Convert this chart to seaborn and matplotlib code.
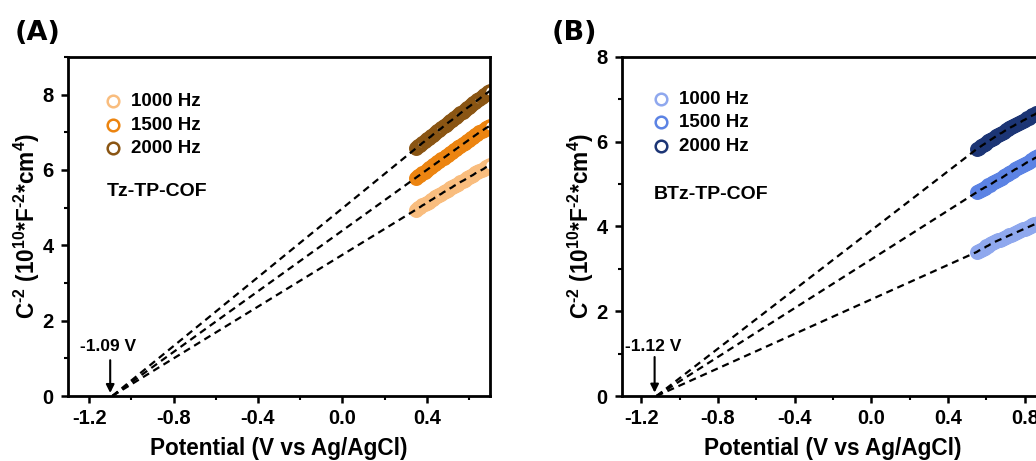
import numpy as np
import pandas as pd
import matplotlib
matplotlib.use("Agg")
import matplotlib.pyplot as plt
from matplotlib.ticker import MultipleLocator, FormatStrFormatter
import seaborn as sns

# ---- Mott-Schottky data ----------------------------------------------------
freqs = ["1000 Hz", "1500 Hz", "2000 Hz"]

# Tz-TP-COF
pot_tz = [0.35, 0.36, 0.37, 0.38, 0.39, 0.40, 0.41, 0.42, 0.43, 0.44,
          0.45, 0.46, 0.47, 0.48, 0.49, 0.50, 0.51, 0.52, 0.53, 0.54,
          0.55, 0.56, 0.57, 0.58, 0.59, 0.60, 0.61, 0.62, 0.63, 0.64,
          0.65, 0.66, 0.67, 0.68, 0.69, 0.70]
tz_1000 = [4.95, 4.99, 5.02, 5.06, 5.09, 5.13, 5.16, 5.20, 5.23, 5.27,
           5.30, 5.34, 5.37, 5.41, 5.44, 5.47, 5.51, 5.54, 5.58, 5.61,
           5.64, 5.68, 5.71, 5.74, 5.78, 5.81, 5.84, 5.87, 5.91, 5.94,
           5.97, 6.00, 6.03, 6.07, 6.10, 6.13]
tz_1500 = [5.80, 5.84, 5.88, 5.92, 5.96, 6.00, 6.04, 6.08, 6.12, 6.16,
           6.20, 6.24, 6.28, 6.32, 6.36, 6.40, 6.44, 6.48, 6.52, 6.56,
           6.60, 6.64, 6.68, 6.72, 6.76, 6.80, 6.84, 6.88, 6.92, 6.96,
           7.00, 7.04, 7.07, 7.11, 7.14, 7.18]
tz_2000 = [6.58, 6.63, 6.67, 6.72, 6.76, 6.81, 6.85, 6.89, 6.94, 6.98,
           7.03, 7.07, 7.11, 7.16, 7.20, 7.25, 7.29, 7.33, 7.38, 7.42,
           7.46, 7.51, 7.55, 7.59, 7.64, 7.68, 7.72, 7.77, 7.81, 7.85,
           7.89, 7.94, 7.98, 8.02, 8.06, 8.10]
efb_tz = -1.09

# BTz-TP-COF
pot_btz = [0.55, 0.56, 0.57, 0.58, 0.59, 0.60, 0.61, 0.62, 0.63, 0.64,
           0.65, 0.66, 0.67, 0.68, 0.69, 0.70, 0.71, 0.72, 0.73, 0.74,
           0.75, 0.76, 0.77, 0.78, 0.79, 0.80, 0.81, 0.82, 0.83, 0.84,
           0.85, 0.86, 0.87, 0.88, 0.89, 0.90]
btz_1000 = [3.40, 3.43, 3.45, 3.48, 3.50, 3.53, 3.55, 3.58, 3.60, 3.63,
            3.65, 3.67, 3.69, 3.71, 3.73, 3.75, 3.77, 3.79, 3.81, 3.83,
            3.85, 3.87, 3.89, 3.91, 3.93, 3.95, 3.97, 3.99, 4.01, 4.03,
            4.05, 4.07, 4.09, 4.11, 4.13, 4.15]
btz_1500 = [4.81, 4.84, 4.87, 4.89, 4.92, 4.94, 4.97, 4.99, 5.02, 5.05,
            5.08, 5.10, 5.13, 5.15, 5.18, 5.21, 5.24, 5.26, 5.29, 5.32,
            5.35, 5.37, 5.40, 5.42, 5.45, 5.48, 5.51, 5.53, 5.56, 5.58,
            5.61, 5.63, 5.66, 5.68, 5.71, 5.73]
btz_2000 = [5.83, 5.86, 5.89, 5.92, 5.95, 5.98, 6.01, 6.04, 6.07, 6.10,
            6.13, 6.16, 6.19, 6.21, 6.24, 6.27, 6.30, 6.32, 6.35, 6.37,
            6.40, 6.42, 6.45, 6.47, 6.50, 6.52, 6.55, 6.57, 6.60, 6.62,
            6.64, 6.67, 6.69, 6.71, 6.73, 6.75]
efb_btz = -1.12

colors_tz = ["#F9BD7E", "#EC8410", "#8A5513"]
colors_btz = ["#8FA8EE", "#5C83E4", "#1C3575"]

# ---- style --------------------------------------------------------------
sns.set_style("ticks")
plt.rcParams["font.family"] = ["Liberation Sans", "DejaVu Sans"]
plt.rcParams["font.weight"] = "bold"
plt.rcParams["axes.labelweight"] = "bold"
plt.rcParams["text.color"] = "black"
plt.rcParams["axes.labelcolor"] = "black"
plt.rcParams["xtick.color"] = "black"
plt.rcParams["ytick.color"] = "black"
plt.rcParams["mathtext.fontset"] = "custom"
plt.rcParams["mathtext.rm"] = "Liberation Sans:bold"
plt.rcParams["mathtext.it"] = "Liberation Sans:bold"
plt.rcParams["mathtext.bf"] = "Liberation Sans:bold"

W, H = 1036, 461
fig = plt.figure(figsize=(W / 100, H / 100), dpi=100)


def px_axes(left, top, right, bottom):
    return fig.add_axes([left / W, 1 - bottom / H, (right - left) / W, (bottom - top) / H])


def panel(ax, pot, series, colors, efb, xlim, ylim, xticks, name,
          leg_anchor, name_pos, note_y, arrow_top, arrow_tip):
    for label, vals, col in zip(freqs, series, colors):
        df = pd.DataFrame({"E": pot, "C": vals})
        sns.scatterplot(data=df, x="E", y="C", ax=ax, color="white",
                        edgecolor=col, linewidth=2.4, s=70, marker="o",
                        label=label, zorder=2, clip_on=True)
        # extrapolated Mott-Schottky fit down to the flat-band potential
        ax.plot([efb] + list(pot), [0.0] + list(vals), color="black",
                lw=1.6, ls=(0, (3.2, 2.2)), zorder=3)

    ax.set_xlim(*xlim)
    ax.set_ylim(*ylim)
    ax.set_xticks(xticks)
    ax.xaxis.set_minor_locator(MultipleLocator(0.2))
    ax.yaxis.set_major_locator(MultipleLocator(2))
    ax.yaxis.set_minor_locator(MultipleLocator(1))
    ax.xaxis.set_major_formatter(FormatStrFormatter("%.1f"))

    for sp in ax.spines.values():
        sp.set_linewidth(2.0)
        sp.set_color("black")
    ax.tick_params(which="major", direction="out", length=5, width=1.8,
                   labelsize=14.5, pad=4, top=False, right=False)
    ax.tick_params(axis="y", which="major", pad=5.5)
    ax.tick_params(which="minor", direction="out", length=3, width=1.5,
                   top=False, right=False)
    for t in ax.get_xticklabels() + ax.get_yticklabels():
        t.set_fontweight("bold")

    ax.set_xlabel("Potential (V vs Ag/AgCl)", fontsize=16.3, fontweight="bold", labelpad=7)
    ax.set_ylabel("C$^{\u20102}$ (10$^{10}$*F$^{\u20102}$*cm$^{4}$)", fontsize=16.3,
                  fontweight="bold", labelpad=0)

    leg = ax.legend(loc="upper left", bbox_to_anchor=leg_anchor, frameon=False,
                    handlelength=1.0, handletextpad=0.45, borderpad=0,
                    borderaxespad=0, labelspacing=0.33,
                    prop={"size": 13.5, "weight": "bold"})
    for h in leg.legend_handles:
        h.set_linewidth(1.8)

    ax.text(name_pos[0], name_pos[1], name, transform=ax.transAxes,
            fontsize=14, fontweight="bold", ha="left", va="center")

    ax.text(efb - 0.02, note_y, f"{efb:.2f} V", fontsize=12.5, fontweight="bold",
            ha="center", va="bottom")
    ax.annotate("", xy=(efb - 0.01, arrow_tip), xytext=(efb - 0.01, arrow_top),
                arrowprops=dict(arrowstyle="-|>", color="black", lw=1.5,
                                mutation_scale=12, shrinkA=0, shrinkB=0))


ax_a = px_axes(68, 57, 490, 396)
panel(ax_a, pot_tz, [tz_1000, tz_1500, tz_2000], colors_tz, efb_tz,
      (-1.3, 0.7), (0, 9), [-1.2, -0.8, -0.4, 0.0, 0.4], "Tz-TP-COF",
      (0.085, 0.893), (0.092, 0.602), 1.12, 0.95, 0.08)

ax_b = px_axes(622, 57, 1044, 396)
panel(ax_b, pot_btz, [btz_1000, btz_1500, btz_2000], colors_btz, efb_btz,
      (-1.3, 0.9), (0, 8), [-1.2, -0.8, -0.4, 0.0, 0.4, 0.8], "BTz-TP-COF",
      (0.07, 0.9), (0.076, 0.593), 0.98, 0.92, 0.08)

fig.text(15 / W, 1 - 33 / H, "(A)", fontsize=19.5, fontweight="bold",
         family="DejaVu Sans", ha="left", va="center")
fig.text(552 / W, 1 - 33 / H, "(B)", fontsize=19.5, fontweight="bold",
         family="DejaVu Sans", ha="left", va="center")

fig.savefig("out.png", dpi=100)
